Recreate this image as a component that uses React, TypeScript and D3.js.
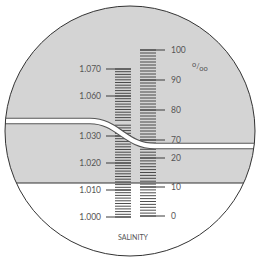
import React from 'react';
import * as d3 from 'd3';

// scale readings from the picture (two segments each, split by the boundary band)
const densityLow = [1.000, 1.010, 1.020, 1.030];
const densityHigh = [1.060, 1.070];
const densityLabels = ['1.000', '1.010', '1.020', '1.030', '1.060', '1.070'];
const salinityLow = [0, 10, 20];
const salinityHigh = [70, 80, 90, 100];
const salinityLabels = ['0', '10', '20', '70', '80', '90', '100'];
const unitLabel = ['o', '/', 'oo'];
const scaleTitle = 'SALINITY';

const W = 256;
const H = 259;
const cx = 130, cy = 131, r = 125;
const shadowY = 183;

const App = () => {
  // piecewise scales for each column
  const dLow = d3.scaleLinear().domain([1.0, 1.03]).range([217, 136]);
  const dHigh = d3.scaleLinear().domain([1.06, 1.07]).range([96, 69]);
  const sLow = d3.scaleLinear().domain([0, 20]).range([216, 158]);
  const sHigh = d3.scaleLinear().domain([70, 100]).range([140, 50]);

  const dMinorLow = d3.range(0, 35).map((i) => dLow(1.0 + i * 0.001));
  const dMinorHigh = d3.range(0, 20).map((i) => dHigh(1.07 - i * 0.001));
  const sMinorLow = d3.range(0, 25).map((i) => sLow(i));
  const sMinorHigh = d3.range(69, 101).map((i) => sHigh(i));

  const dMajor = [...densityLow.map((v) => dLow(v)), ...densityHigh.map((v) => dHigh(v))];
  const sMajor = [...salinityLow.map((v) => sLow(v)), ...salinityHigh.map((v) => sHigh(v))];

  const band = d3.path();
  band.moveTo(0, 121);
  band.lineTo(90, 121);
  band.bezierCurveTo(118, 121, 125, 146, 155, 146);
  band.lineTo(W, 146);

  const tick = '#3a3a3a';
  const txt = '#555';
  const font = 'Lato, "DejaVu Sans", sans-serif';

  return (
    <svg width={W} height={H} style={{ position: 'absolute', left: 0, top: 0 }}>
      <defs>
        <clipPath id="lens">
          <circle cx={cx} cy={cy} r={r} />
        </clipPath>
      </defs>
      <rect width={W} height={H} fill="#fff" />
      <g clipPath="url(#lens)">
        <rect x={0} y={0} width={W} height={shadowY} fill="#d4d4d4" />
        <line x1={0} x2={W} y1={shadowY} y2={shadowY} stroke="#333" strokeWidth={1} />

        {/* density column */}
        {[...dMinorLow, ...dMinorHigh].map((y, i) => (
          <line key={'dm' + i} x1={115} x2={131} y1={y} y2={y} stroke={tick} strokeWidth={0.9} />
        ))}
        {dMajor.map((y, i) => (
          <line key={'dM' + i} x1={106} x2={131} y1={y} y2={y} stroke={tick} strokeWidth={1} />
        ))}
        {dMajor.map((y, i) => (
          <text key={'dt' + i} x={101} y={y} dy="0.35em" textAnchor="end" fontSize={8.5}
            fontFamily={font} fill={txt}>{densityLabels[i]}</text>
        ))}

        {/* salinity column */}
        {[...sMinorLow, ...sMinorHigh].map((y, i) => (
          <line key={'sm' + i} x1={140} x2={156} y1={y} y2={y} stroke={tick} strokeWidth={0.9} />
        ))}
        {sMajor.map((y, i) => (
          <line key={'sM' + i} x1={140} x2={165} y1={y} y2={y} stroke={tick} strokeWidth={1} />
        ))}
        {sMajor.map((y, i) => (
          <text key={'st' + i} x={171} y={y} dy="0.35em" textAnchor="start" fontSize={8.5}
            fontFamily={font} fill={txt}>{salinityLabels[i]}</text>
        ))}

        {/* boundary line */}
        <path d={band.toString()} fill="none" stroke="#555" strokeWidth={6.5} />
        <path d={band.toString()} fill="none" stroke="#fff" strokeWidth={4.3} />

        <text x={192} y={70} fontSize={7.5} fontFamily={font} fill={txt}>
          <tspan dy={-3}>{unitLabel[0]}</tspan>
          <tspan dy={2}>{unitLabel[1]}</tspan>
          <tspan dy={2}>{unitLabel[2]}</tspan>
        </text>
        <text x={133} y={238} dy="0.35em" textAnchor="middle" fontSize={7} fontFamily={font}
          fill={txt} textLength={30} lengthAdjust="spacingAndGlyphs">{scaleTitle}</text>
      </g>
      <circle cx={cx} cy={cy} r={r} fill="none" stroke="#333" strokeWidth={1} />
    </svg>
  );
};

export default App;
